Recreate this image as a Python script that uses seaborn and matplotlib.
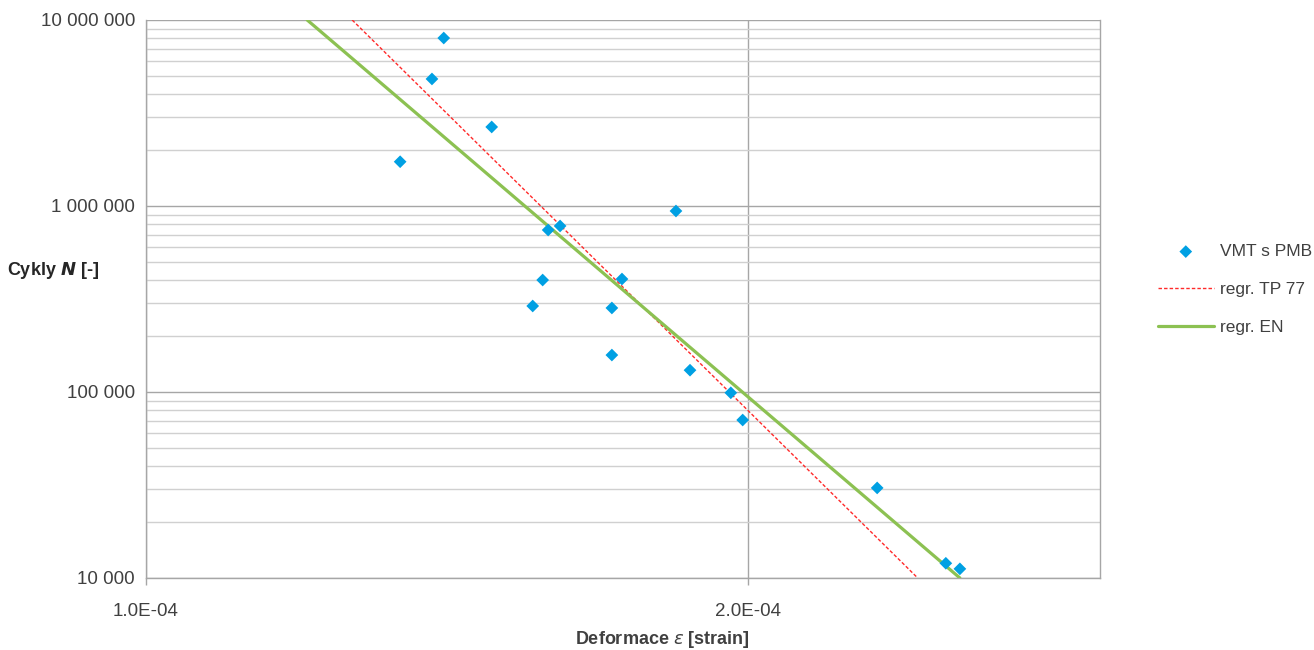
import numpy as np
import pandas as pd
import matplotlib
matplotlib.use('Agg')
import matplotlib.pyplot as plt
import matplotlib.ticker as mticker
import seaborn as sns

# measured points (strain, cycles)
strain = [1.340e-4, 1.390e-4, 1.409e-4, 1.489e-4, 1.561e-4, 1.579e-4,
          1.589e-4, 1.611e-4, 1.710e-4, 1.710e-4, 1.730e-4, 1.841e-4,
          1.871e-4, 1.961e-4, 1.988e-4, 2.321e-4, 2.512e-4, 2.553e-4]
cycles = [1.73e6, 4.82e6, 8.0e6, 2.66e6, 2.90e5, 4.0e5,
          7.43e5, 7.81e5, 2.83e5, 1.58e5, 4.05e5, 9.4e5,
          1.31e5, 9.9e4, 7.07e4, 3.05e4, 1.20e4, 1.12e4]

# regression lines, end points
tp77_strain = [1.268e-4, 2.432e-4]
tp77_cycles = [1e7, 1e4]
en_strain = [1.204e-4, 2.553e-4]
en_cycles = [1e7, 1e4]

x_ticks = [1e-4, 2e-4]
x_ticklabels = ['1.0E-04', '2.0E-04']
y_ticks = [1e4, 1e5, 1e6, 1e7]

df = pd.DataFrame({'strain': strain, 'cycles': cycles})
tp77 = pd.DataFrame({'strain': tp77_strain, 'cycles': tp77_cycles})
en = pd.DataFrame({'strain': en_strain, 'cycles': en_cycles})

sns.set_style('white')
plt.rcParams['font.family'] = ['Liberation Sans', 'DejaVu Sans']

fig = plt.figure(figsize=(13.14, 6.5), dpi=100)
ax = fig.add_axes([146 / 1314, 1 - 578 / 650, (1100 - 146) / 1314, (578 - 20) / 650])

ax.set_xscale('log')
ax.set_yscale('log')

sns.lineplot(data=tp77, x='strain', y='cycles', ax=ax, color='#ff2a2a',
             linewidth=1.0, linestyle=(0, (2.5, 1.5)), label='regr. TP 77',
             zorder=3, sort=False)
sns.lineplot(data=en, x='strain', y='cycles', ax=ax, color='#8cc152',
             linewidth=2.3, label='regr. EN', zorder=3, sort=False)
sns.scatterplot(data=df, x='strain', y='cycles', ax=ax, marker='D', s=42,
                color='#00a0e3', edgecolor='none', label='VMT s PMB', zorder=4)

ax.set_xlim(1e-4, 3e-4)
ax.set_ylim(1e4, 1e7)

ax.xaxis.set_major_locator(mticker.FixedLocator(x_ticks))
ax.xaxis.set_major_formatter(mticker.FixedFormatter(x_ticklabels))
ax.xaxis.set_minor_locator(mticker.NullLocator())
ax.yaxis.set_major_locator(mticker.FixedLocator(y_ticks))
ax.yaxis.set_major_formatter(mticker.FuncFormatter(lambda v, p: f'{int(round(v)):,}'.replace(',', ' ')))
ax.yaxis.set_minor_locator(mticker.LogLocator(base=10, subs=np.arange(2, 10)))
ax.yaxis.set_minor_formatter(mticker.NullFormatter())

ax.grid(True, which='major', axis='both', color='#a6a6a6', linewidth=1.0)
ax.grid(True, which='minor', axis='y', color='#d0d0d0', linewidth=1.0)
ax.set_axisbelow(True)

for side in ['left', 'bottom', 'right']:
    ax.spines[side].set_color('#a6a6a6')
    ax.spines[side].set_linewidth(1.0)
ax.spines['top'].set_visible(False)

ax.tick_params(axis='both', which='major', labelsize=13.5, colors='#404040',
               length=5, width=1, direction='out', left=False, bottom=True)
ax.tick_params(axis='both', which='minor', length=0)
ax.tick_params(axis='x', pad=13, color='#a6a6a6')
ax.tick_params(axis='y', pad=3)

ax.set_xlabel('')
ax.set_ylabel('')
fig.text(662 / 1314, 1 - 640 / 650, r'Deformace $\varepsilon$ [strain]', ha='center', va='center',
         fontsize=13, fontweight='bold', color='#404040')
fig.text(53 / 1314, 1 - 270 / 650, r'Cykly $\boldsymbol{N}$ [-]', ha='center', va='center',
         fontsize=13, fontweight='bold', color='#262626')

handles, labels = ax.get_legend_handles_labels()
order = [labels.index('VMT s PMB'), labels.index('regr. TP 77'), labels.index('regr. EN')]
leg = ax.legend([handles[i] for i in order], [labels[i] for i in order],
                loc='upper left', bbox_to_anchor=(1158 / 1314, 1 - 244 / 650),
                bbox_transform=fig.transFigure, frameon=False, fontsize=12.5,
                handlelength=3.2, handletextpad=0.4, labelspacing=1.32,
                borderpad=0, borderaxespad=0)
for t in leg.get_texts():
    t.set_color('#404040')

fig.savefig('out.png', dpi=100)
